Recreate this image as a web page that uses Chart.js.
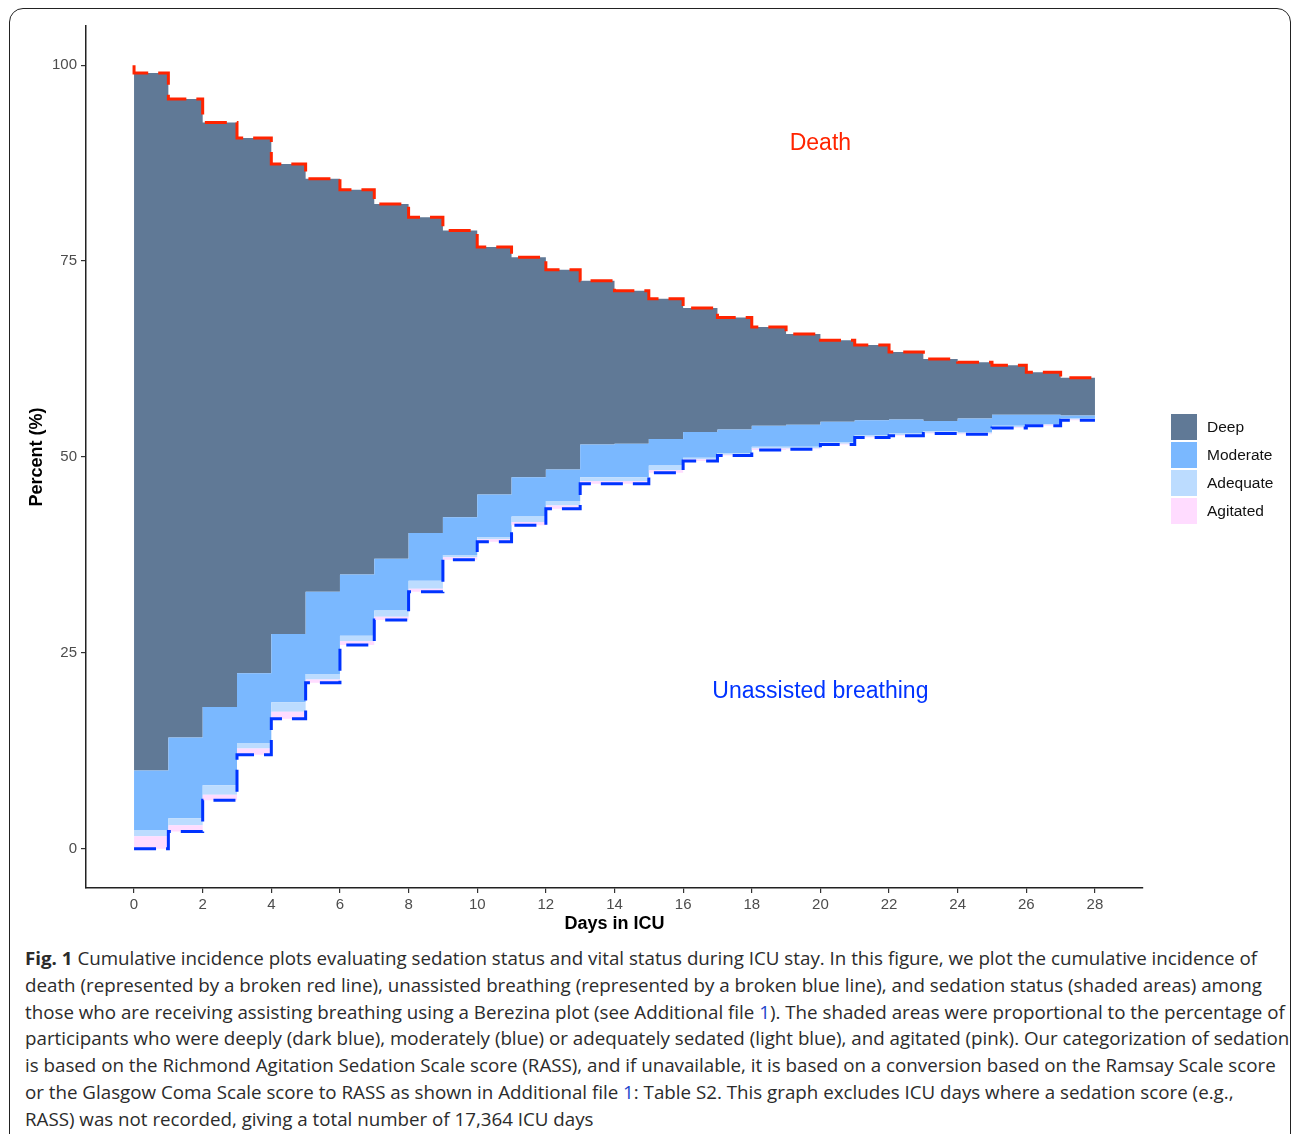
<!DOCTYPE html>
<html>
<head>
  <title>Sedation status and vital status during ICU stay</title>
  <script src="https://cdn.jsdelivr.net/npm/chart.js"></script>
  <style>
    body { margin: 0; background: #fff; font-family: 'Liberation Sans', Arial, sans-serif; }
    #frame { position: absolute; left: 9px; top: 8px; width: 1282px; height: 1300px; border: 1.6px solid #222; border-radius: 14px; box-sizing: border-box; }
    #chartBox { position: absolute; left: 0; top: 0; width: 1293px; height: 945px; }
    .legend { position: absolute; left: 1171px; top: 414px; }
    .legend-item { height: 26px; margin-bottom: 1.9px; display: flex; align-items: center; font-size: 15.5px; color: #111; }
    .legend-box { width: 26px; height: 26px; margin-right: 10px; }
    #caption { position: absolute; left: 25px; top: 945px; font-family: 'Open Sans', sans-serif; font-size: 18.4px; line-height: 26.8px; color: #2b2b2b; transform-origin: 0 0; white-space: nowrap; }
    #caption .lnk { color: #2244cc; }
  </style>
</head>
<body>
  <div id="frame"></div>
  <div id="chartBox"><canvas id="sedationChart" width="1293" height="945"></canvas></div>

  <div class="legend">
    <div class="legend-item"><span class="legend-box" style="background:#607996"></span>Deep</div>
    <div class="legend-item"><span class="legend-box" style="background:#7ab8ff"></span>Moderate</div>
    <div class="legend-item"><span class="legend-box" style="background:#bcdcff"></span>Adequate</div>
    <div class="legend-item"><span class="legend-box" style="background:#ffdcff"></span>Agitated</div>
  </div>

  <div id="caption">
    <div><span id="capLine1"><b>Fig. 1</b> Cumulative incidence plots evaluating sedation status and vital status during ICU stay. In this figure, we plot the cumulative incidence of</span></div>
    <div>death (represented by a broken red line), unassisted breathing (represented by a broken blue line), and sedation status (shaded areas) among</div>
    <div>those who are receiving assisting breathing using a Berezina plot (see Additional file <span class="lnk">1</span>). The shaded areas were proportional to the percentage of</div>
    <div>participants who were deeply (dark blue), moderately (blue) or adequately sedated (light blue), and agitated (pink). Our categorization of sedation</div>
    <div>is based on the Richmond Agitation Sedation Scale score (RASS), and if unavailable, it is based on a conversion based on the Ramsay Scale score</div>
    <div>or the Glasgow Coma Scale score to RASS as shown in Additional file <span class="lnk">1</span>: Table S2. This graph excludes ICU days where a sedation score (e.g.,</div>
    <div>RASS) was not recorded, giving a total number of 17,364 ICU days</div>
  </div>

  <script>
    // day 0 = start value, day k = level over the interval (k-1, k]
    const days = [0, 1, 2, 3, 4, 5, 6, 7, 8, 9, 10, 11, 12, 13, 14, 15, 16, 17, 18, 19, 20, 21, 22, 23, 24, 25, 26, 27, 28];
    const deathLine = [100, 99.0, 95.7, 92.7, 90.7, 87.4, 85.5, 84.1, 82.3, 80.6, 78.9, 76.8, 75.5, 73.9, 72.5, 71.2, 70.2, 69.0, 67.8, 66.6, 65.7, 64.9, 64.3, 63.4, 62.5, 62.1, 61.7, 60.8, 60.1];
    const moderateTop = [10.0, 10.0, 14.2, 18.1, 22.4, 27.4, 32.8, 35.0, 37.0, 40.3, 42.3, 45.2, 47.4, 48.4, 51.6, 51.7, 52.3, 53.2, 53.5, 54.0, 54.1, 54.5, 54.7, 54.8, 54.6, 54.9, 55.4, 55.4, 55.3];
    const adequateTop = [2.4, 2.4, 3.9, 8.1, 13.5, 18.7, 22.3, 27.2, 30.4, 34.2, 37.5, 39.8, 42.4, 44.4, 47.4, 47.4, 48.9, 49.9, 50.5, 51.3, 51.3, 51.9, 52.8, 53.0, 53.3, 53.2, 54.0, 54.2, 54.9];
    const agitatedTop = [1.6, 1.6, 3.0, 6.9, 12.8, 17.5, 21.6, 26.5, 29.6, 33.2, 37.2, 39.5, 41.7, 43.8, 46.9, 46.9, 48.3, 49.7, 50.3, 51.1, 51.1, 51.7, 52.6, 52.8, 53.1, 53.0, 53.8, 54.1, 54.8];
    const unassistedLine = [0, 0, 2.2, 6.2, 12.0, 16.6, 21.2, 26.0, 29.2, 32.8, 36.9, 39.2, 41.3, 43.4, 46.6, 46.6, 48.0, 49.5, 50.2, 50.9, 51.0, 51.6, 52.5, 52.7, 53.0, 52.9, 53.7, 54.0, 54.7];

    const xTicks = [0, 2, 4, 6, 8, 10, 12, 14, 16, 18, 20, 22, 24, 26, 28];
    const yTicks = [0, 25, 50, 75, 100];

    const noteTexts = ['Death', 'Unassisted breathing'];
    const noteX = [20, 20];
    const noteY = [90, 20];
    const noteColors = ['#ff2400', '#0033ff'];

    const pts = arr => arr.map((v, i) => ({ x: days[i], y: v }));

    Chart.defaults.font.family = "'Liberation Sans', Arial, sans-serif";

    const noteLabels = {
      id: 'noteLabels',
      afterDatasetsDraw(chart) {
        const { ctx, scales: { x, y } } = chart;
        ctx.save();
        ctx.font = "23px 'Liberation Sans', Arial, sans-serif";
        ctx.textAlign = 'center';
        ctx.textBaseline = 'middle';
        noteTexts.forEach((t, i) => {
          ctx.fillStyle = noteColors[i];
          ctx.fillText(t, x.getPixelForValue(noteX[i]), y.getPixelForValue(noteY[i]));
        });
        ctx.restore();
      }
    };

    const dashed = { borderWidth: 3, borderDash: [22, 10], borderCapStyle: 'butt', fill: false, stepped: 'after', pointRadius: 0 };
    const area = { borderWidth: 0, borderColor: 'rgba(0,0,0,0)', stepped: 'after', pointRadius: 0 };

    new Chart(document.getElementById('sedationChart').getContext('2d'), {
      type: 'line',
      data: {
        datasets: [
          { label: 'Death', data: pts(deathLine), borderColor: '#ff2400', ...dashed },
          { label: 'Unassisted breathing', data: pts(unassistedLine), borderColor: '#0033ff', ...dashed },
          { label: 'Agitated', data: pts(agitatedTop), backgroundColor: '#ffdcff', fill: 1, ...area },
          { label: 'Adequate', data: pts(adequateTop), backgroundColor: '#bcdcff', fill: '-1', ...area },
          { label: 'Moderate', data: pts(moderateTop), backgroundColor: '#7ab8ff', fill: '-1', ...area },
          { label: 'Deep', data: pts(deathLine), backgroundColor: '#607996', fill: '-1', ...area }
        ]
      },
      options: {
        responsive: false,
        animation: false,
        layout: { padding: { left: 0, right: 150, top: 26, bottom: 0 } },
        plugins: { legend: { display: false }, tooltip: { enabled: false } },
        scales: {
          x: {
            type: 'linear', min: -1.4, max: 29.4,
            afterBuildTicks: s => { s.ticks = xTicks.map(v => ({ value: v })); },
            afterFit: s => { s.height = 57; },
            grid: { drawOnChartArea: false, tickLength: 5, color: '#333', lineWidth: 1.2 },
            border: { color: '#222', width: 1.5 },
            ticks: { color: '#4d4d4d', font: { size: 15 }, padding: 3, maxRotation: 0, autoSkip: false },
            title: { display: true, text: 'Days in ICU', color: '#000', font: { size: 18, weight: 'bold' }, padding: { top: 0, bottom: 10 } }
          },
          y: {
            min: -5, max: 105,
            afterBuildTicks: s => { s.ticks = yTicks.map(v => ({ value: v })); },
            afterFit: s => { s.width = 86; },
            grid: { drawOnChartArea: false, tickLength: 5, color: '#333', lineWidth: 1.2 },
            border: { color: '#222', width: 1.5 },
            ticks: { color: '#4d4d4d', font: { size: 15 }, padding: 4 },
            title: { display: true, text: 'Percent (%)', color: '#000', font: { size: 18, weight: 'bold' }, padding: { top: 26, bottom: 0 } }
          }
        }
      },
      plugins: [noteLabels]
    });

    // squeeze caption so its first line spans the same width as in the figure
    const lineW = document.getElementById('capLine1').getBoundingClientRect().width;
    document.getElementById('caption').style.transform = `scaleX(${1232 / lineW})`;
  </script>
</body>
</html>
